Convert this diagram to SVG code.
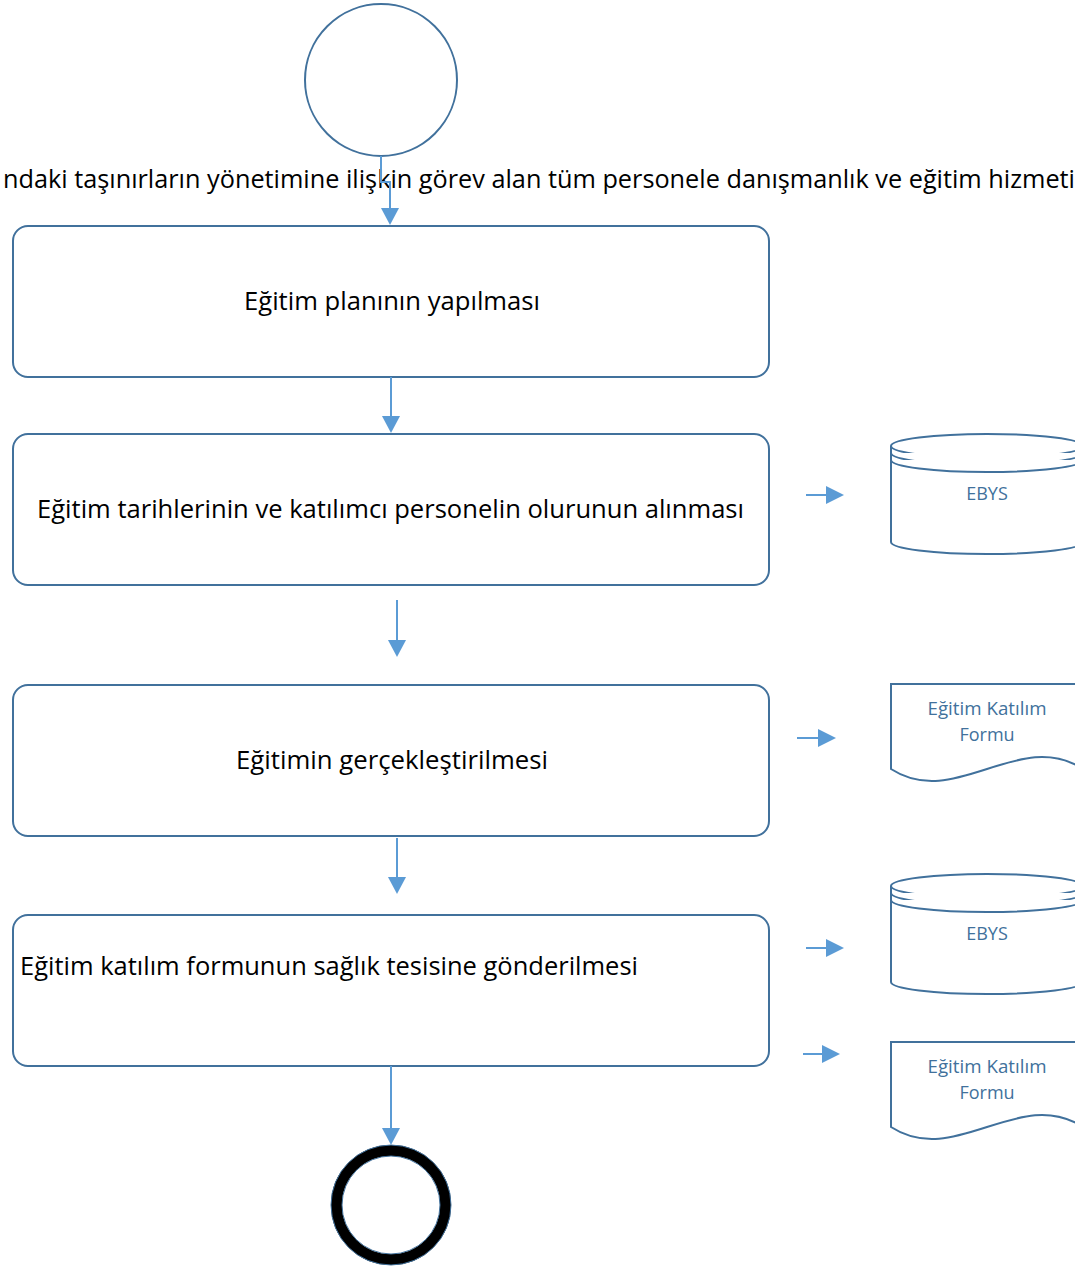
<svg xmlns="http://www.w3.org/2000/svg" width="1075" height="1275" viewBox="0 0 1075 1275">
<style>
.box{fill:#fff;stroke:#41719C;stroke-width:2}
.shape{fill:#fff;stroke:#41719C;stroke-width:2}
.lbl{font-family:"Open Sans","Noto Sans",sans-serif;font-size:25px;fill:#000}
.sl{font-family:"Open Sans","Noto Sans",sans-serif;font-size:18px;fill:#41719C;text-anchor:middle}
.conn{fill:none;stroke:#5B9BD5;stroke-width:2}
.ah{fill:#5B9BD5}
</style>
<rect width="1075" height="1275" fill="#fff"/>
<g id="start">
<circle cx="381" cy="80" r="76" fill="#fff" stroke="#41719C" stroke-width="2"/>
</g>
<g id="title">
<text class="lbl" x="3" y="188" textLength="1072" lengthAdjust="spacingAndGlyphs">ndaki taşınırların yönetimine ilişkin görev alan tüm personele danışmanlık ve eğitim hizmeti</text>
</g>
<g id="box1">
<rect class="box" x="13" y="226" width="756" height="151" rx="15"/>
<text class="lbl" x="244" y="310" textLength="296" lengthAdjust="spacingAndGlyphs">Eğitim planının yapılması</text>
</g>
<g id="box2">
<rect class="box" x="13" y="434" width="756" height="151" rx="15"/>
<text class="lbl" x="37" y="518" textLength="707" lengthAdjust="spacingAndGlyphs">Eğitim tarihlerinin ve katılımcı personelin olurunun alınması</text>
</g>
<g id="box3">
<rect class="box" x="13" y="685" width="756" height="151" rx="15"/>
<text class="lbl" x="236" y="769" textLength="312" lengthAdjust="spacingAndGlyphs">Eğitimin gerçekleştirilmesi</text>
</g>
<g id="box4">
<rect class="box" x="13" y="915" width="756" height="151" rx="15"/>
<text class="lbl" x="20" y="975" textLength="618" lengthAdjust="spacingAndGlyphs">Eğitim katılım formunun sağlık tesisine gönderilmesi</text>
</g>
<g id="db1">
<path class="shape" d="M891,446 V542 A96,12 0 0 0 1083,542 V446"/>
<ellipse class="shape" cx="987" cy="446" rx="96" ry="12"/>
<path class="shape" fill="none" d="M891,453 A96,12 0 0 0 1083,453"/>
<path class="shape" fill="none" d="M891,460 A96,12 0 0 0 1083,460"/>
<text class="sl" x="987" y="500">EBYS</text>
</g>
<g id="doc1">
<path class="shape" d="M891,684 H1083 V769 C1019,727.4 955,810.6 891,769 Z"/>
<text class="sl" x="987" y="715" textLength="119" lengthAdjust="spacingAndGlyphs">Eğitim Katılım</text>
<text class="sl" x="987" y="741">Formu</text>
</g>
<g id="db2">
<path class="shape" d="M891,886 V982 A96,12 0 0 0 1083,982 V886"/>
<ellipse class="shape" cx="987" cy="886" rx="96" ry="12"/>
<path class="shape" fill="none" d="M891,893 A96,12 0 0 0 1083,893"/>
<path class="shape" fill="none" d="M891,900 A96,12 0 0 0 1083,900"/>
<text class="sl" x="987" y="940">EBYS</text>
</g>
<g id="doc2">
<path class="shape" d="M891,1042 H1083 V1127 C1019,1085.4 955,1168.6 891,1127 Z"/>
<text class="sl" x="987" y="1073" textLength="119" lengthAdjust="spacingAndGlyphs">Eğitim Katılım</text>
<text class="sl" x="987" y="1099">Formu</text>
</g>
<g id="end">
<circle cx="391" cy="1205" r="54.5" fill="#fff" stroke="#000" stroke-width="11"/>
<circle cx="391" cy="1205" r="60" fill="none" stroke="#41719C" stroke-width="1"/>
<circle cx="391" cy="1205" r="49" fill="none" stroke="#41719C" stroke-width="1"/>
</g>
<g id="connectors">
<path class="conn" d="M381,156 V182 H390 V208"/>
<path class="ah" d="M390,225 L381,208 L399,208 Z"/>
<path class="conn" d="M391,377 V416"/>
<path class="ah" d="M391,433 L382,416 L400,416 Z"/>
<path class="conn" d="M397,600 V640"/>
<path class="ah" d="M397,657 L388,640 L406,640 Z"/>
<path class="conn" d="M397,838 V877"/>
<path class="ah" d="M397,894 L388,877 L406,877 Z"/>
<path class="conn" d="M391,1066 V1128"/>
<path class="ah" d="M391,1145 L382,1128 L400,1128 Z"/>
<path class="conn" d="M806,495 H828"/>
<path class="ah" d="M844,495 L826,486 L826,504 Z"/>
<path class="conn" d="M797,738 H820"/>
<path class="ah" d="M836,738 L818,729 L818,747 Z"/>
<path class="conn" d="M806,948 H828"/>
<path class="ah" d="M844,948 L826,939 L826,957 Z"/>
<path class="conn" d="M803,1054 H824"/>
<path class="ah" d="M840,1054 L822,1045 L822,1063 Z"/>
</g>
</svg>
